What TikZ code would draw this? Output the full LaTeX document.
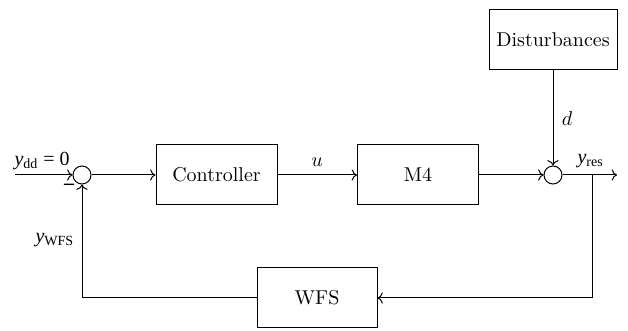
\documentclass[tikz,border=0pt]{standalone}
\usepackage{fontspec}
\newfontfamily\tms{Liberation Serif}
\usetikzlibrary{arrows.meta}
\newcommand{\tyy}[1]{{\tms\itshape y}\textsubscript{\tms #1}}
\begin{document}
\begin{tikzpicture}[x=0.5pt,y=-0.5pt,line width=0.5pt,
  blockbox/.style={draw,rectangle,inner sep=0pt,minimum width=60.5pt,minimum height=30pt,font=\fontsize{10}{12}\selectfont},
  sumnode/.style={draw,circle,inner sep=0pt,minimum size=9pt},
  conn/.style={->}]
\useasboundingbox (0,0) rectangle (628,331);
\node[sumnode] (s1) at (82,175) {};
\node[blockbox] (ctrl) at (216.5,175) {Controller};
\node[blockbox] (m4) at (418,175) {M4};
\node[sumnode] (s2) at (553,175) {};
\node[blockbox,minimum width=64pt] (dist) at (553,40) {Disturbances};
\node[blockbox,minimum width=60pt] (wfs) at (317,298) {WFS};
\coordinate (in) at (15,175);
\coordinate (br) at (592,175);
\coordinate (out) at (617,175);
\draw[conn] (in) -- (s1);
\draw[conn] (s1) -- (ctrl);
\draw[conn] (ctrl) -- (m4);
\draw[conn] (m4) -- (s2);
\draw[conn] (s2) -- (out);
\draw[conn] (dist) -- (s2);
\draw[conn] (br) |- (wfs.east);
\draw[conn] (wfs.west) -| (s1.south);
\node[anchor=base west,inner sep=0pt] (lin) at (14,166) {\tyy{dd}\tms{} = 0};
\node[anchor=base west,inner sep=0pt] (lwfs) at (35,243) {\tyy{WFS}};
\node[anchor=base west,inner sep=0pt] (lres) at (577,164) {\tyy{res}};
\node[anchor=base,inner sep=0pt] (lu) at (317,167) {$u$};
\node[anchor=base,inner sep=0pt] (ld) at (567,126) {$d$};
\node[anchor=base,inner sep=0pt] (lminus) at (69,189.5) {\tms\bfseries –};
\end{tikzpicture}
\end{document}
